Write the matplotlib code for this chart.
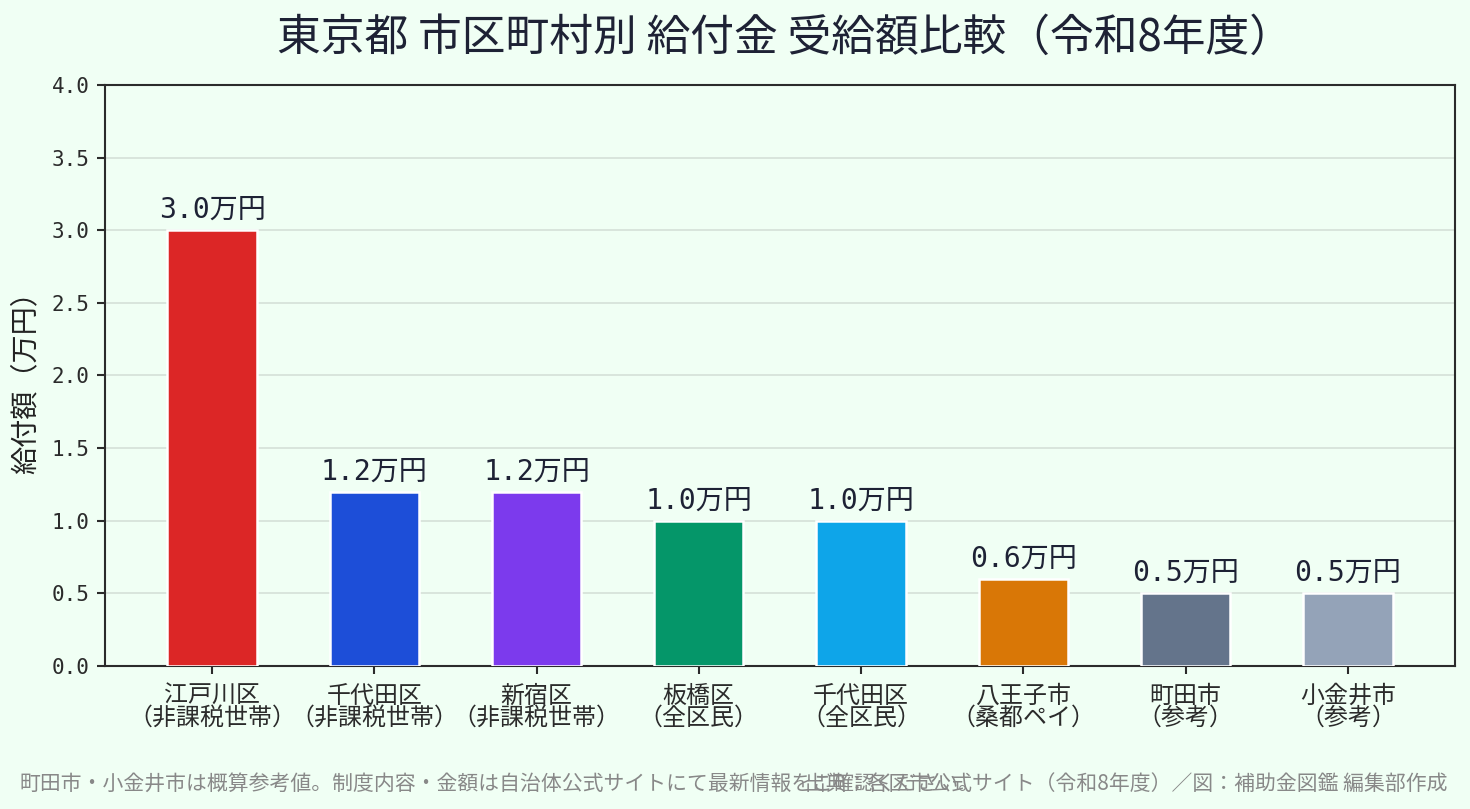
import matplotlib
matplotlib.use("Agg")
import matplotlib.pyplot as plt
import numpy as np

plt.rcParams['font.family'] = ['Noto Sans CJK JP', 'DejaVu Sans']

# data
regions = ['江戸川区\n（非課税世帯）', '千代田区\n（非課税世帯）', '新宿区\n（非課税世帯）', '板橋区\n（全区民）',
           '千代田区\n（全区民）', '八王子市\n（桑都ペイ）', '町田市\n（参考）', '小金井市\n（参考）']
amounts = [3.0, 1.2, 1.2, 1.0, 1.0, 0.6, 0.5, 0.5]
bar_colors = ['#DC2626', '#1D4ED8', '#7C3AED', '#059669', '#0EA5E9', '#D97706', '#64748B', '#94A3B8']
yticks = [0.0, 0.5, 1.0, 1.5, 2.0, 2.5, 3.0, 3.5, 4.0]

title = '東京都 市区町村別 給付金 受給額比較（令和8年度）'
note = '町田市・小金井市は概算参考値。制度内容・金額は自治体公式サイトにて最新情報をご確認ください。'
source = '出典：各区市公式サイト（令和8年度）／図：補助金図鑑 編集部作成'

bg = '#F0FFF4'
dark = '#1E2235'
mono = ['DejaVu Sans Mono', 'Noto Sans CJK JP']

fig = plt.figure(figsize=(9.8, 809 / 150), dpi=150, facecolor=bg)
ax = fig.add_axes([0.0714, 0.177, 0.9184, 0.718])
ax.set_facecolor(bg)

x = np.arange(len(amounts))
bars = ax.bar(x, amounts, width=0.55, color=bar_colors, edgecolor='white', linewidth=1.2, zorder=3)

for rect, val in zip(bars, amounts):
    ax.annotate(f'{val:.1f}万円', (rect.get_x() + rect.get_width() / 2, val),
                xytext=(0, 3), textcoords='offset points', ha='center', va='bottom',
                fontsize=13.5, color=dark, family=mono)

ax.set_xlim(-0.66, 7.66)
ax.set_ylim(0, 4.0)
ax.set_xticks(x)
ax.set_xticklabels(regions, fontsize=11.5, color='#222222', linespacing=0.95)
ax.set_yticks(yticks)
ax.set_yticklabels([f'{t:.1f}' for t in yticks], fontsize=10, family=mono, color='#222222')
ax.set_ylabel('給付額（万円）', fontsize=13.5, color='#222222', labelpad=5)

ax.grid(axis='y', color='#D5E0D8', linewidth=0.8, zorder=0)
ax.set_axisbelow(True)
for s in ax.spines.values():
    s.set_color('#2B2B2B')
    s.set_linewidth(1.0)
ax.tick_params(axis='both', colors='#2B2B2B', length=4, width=1.0)
ax.tick_params(axis='x', pad=5)

fig.text(0.534, 0.953, title, ha='center', va='center', fontsize=21, color=dark)
fig.text(0.013, 0.031, note, ha='left', va='center', fontsize=10, color='#888888')
fig.text(0.985, 0.031, source, ha='right', va='center', fontsize=10, color='#888888')

fig.savefig('out.png', dpi=150, facecolor=bg)
